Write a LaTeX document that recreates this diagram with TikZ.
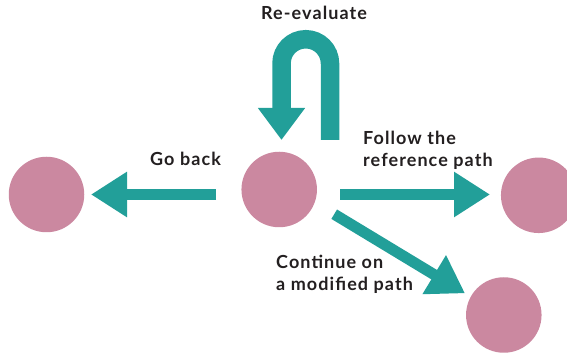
\documentclass[tikz,border=0pt]{standalone}
\usepackage{fontspec}
\setmainfont{Lato}[LetterSpace=6]
\usetikzlibrary{arrows.meta}
\definecolor{teal}{RGB}{34,159,153}
\definecolor{pinkc}{RGB}{203,136,160}
\definecolor{txt}{RGB}{35,31,32}
\tikzset{
  dot/.style={circle, fill=pinkc, draw=none, minimum size=75.5pt, inner sep=0pt},
  lbl/.style={font=\bfseries\fontsize{18}{22}\selectfont, text=txt, inner sep=0pt, align=left},
  arr/.style={draw=teal, line width=11pt, -{Triangle[length=36pt, width=43pt]}},
  uarr/.style={draw=teal, line width=18.5pt, -{Triangle[length=32pt, width=45pt]}}
}
\begin{document}
\begin{tikzpicture}[x=1pt,y=1pt]
\useasboundingbox (0,0) rectangle (567,353);
\node[dot] (L) at (46.5,158.5) {};
\node[dot] (C) at (279.2,163.5) {};
\node[dot] (R) at (538.7,157.7) {};
\node[dot] (B) at (503.8,38) {};
\coordinate (gbs) at (216,158.5);
\coordinate (gbe) at (91,158.5);
\coordinate (fs) at (340,158.5);
\coordinate (fe) at (490,158.5);
\coordinate (ds) at (334.2,138.8);
\coordinate (de) at (465,59.7);
\coordinate (us) at (330,213);
\coordinate (ue) at (281.5,213);
\draw[arr] (gbs) -- (gbe);
\draw[arr] (fs) -- (fe);
\draw[arr] (ds) -- (de);
\draw[uarr] (us) -- (330,289.5) arc[start angle=0, end angle=180, radius=24.25] -- (ue);
\node[lbl, anchor=base west] (t1) at (261,333) {Re-evaluate};
\node[lbl, anchor=base west] (t2) at (150,187) {Go back};
\node[lbl, anchor=base west] (t3) at (363,186.3) {Follow the\\reference path};
\node[lbl, anchor=base west] (t4) at (276,62.3) {Continue on\\a modified path};
\end{tikzpicture}
\end{document}
